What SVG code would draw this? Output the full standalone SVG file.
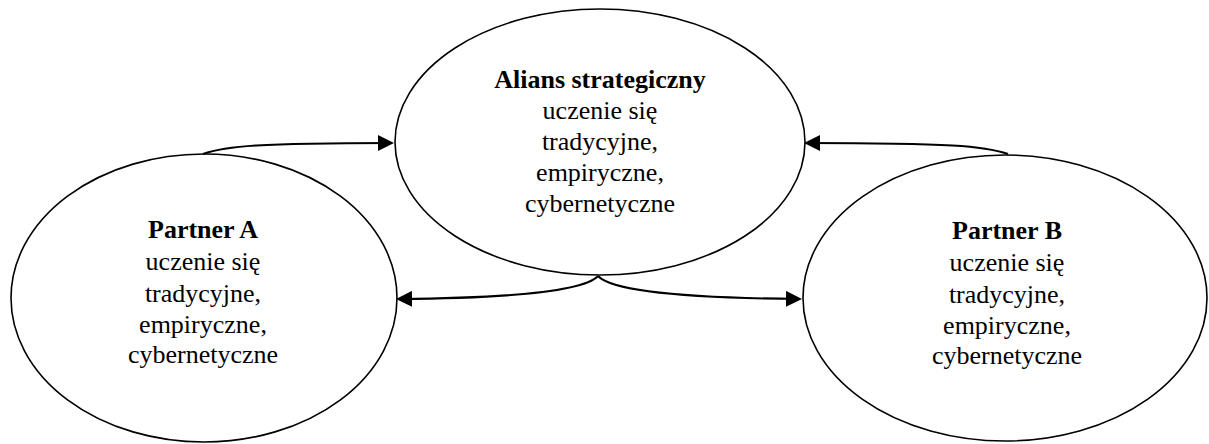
<svg xmlns="http://www.w3.org/2000/svg" width="1209" height="444" viewBox="0 0 1209 444">
  <style>
    .node { fill: #ffffff; stroke: #000000; stroke-width: 1.6; }
    .label { font-family: "Liberation Serif", "Times New Roman", serif; font-size: 26px; fill: #000000; text-anchor: middle; }
    .title { font-weight: bold; }
    .link { fill: none; stroke: #000000; stroke-width: 2.2; marker-end: url(#arrow); }
  </style>
  <defs>
    <marker id="arrow" markerUnits="userSpaceOnUse" markerWidth="16" markerHeight="16" refX="14" refY="8" orient="auto">
      <path d="M0,0 L16,8 L0,16 z" fill="#000000"/>
    </marker>
  </defs>

  <rect width="1209" height="444" fill="#ffffff"/>

  <!-- Strategic alliance (centre) -->
  <g id="alliance">
    <ellipse class="node" cx="600" cy="142" rx="205" ry="133"/>
    <text class="label" x="600" y="88"><tspan class="title">Alians strategiczny</tspan></text>
    <text class="label" x="600" y="119">uczenie się</text>
    <text class="label" x="600" y="150">tradycyjne,</text>
    <text class="label" x="600" y="181">empiryczne,</text>
    <text class="label" x="600" y="212">cybernetyczne</text>
  </g>

  <!-- Partner A (left) -->
  <g id="partner-a">
    <ellipse class="node" cx="204" cy="298" rx="193" ry="144"/>
    <text class="label" x="203" y="238"><tspan class="title">Partner A</tspan></text>
    <text class="label" x="203" y="270">uczenie się</text>
    <text class="label" x="203" y="302">tradycyjne,</text>
    <text class="label" x="203" y="333">empiryczne,</text>
    <text class="label" x="203" y="363">cybernetyczne</text>
  </g>

  <!-- Partner B (right) -->
  <g id="partner-b">
    <ellipse class="node" cx="1005" cy="298" rx="202" ry="143"/>
    <text class="label" x="1007" y="239"><tspan class="title">Partner B</tspan></text>
    <text class="label" x="1007" y="271">uczenie się</text>
    <text class="label" x="1007" y="303">tradycyjne,</text>
    <text class="label" x="1007" y="334">empiryczne,</text>
    <text class="label" x="1007" y="364">cybernetyczne</text>
  </g>

  <!-- Connectors -->
  <g id="connectors">
    <path class="link" d="M203,154 C225,146 260,143 392,143"/>
    <path class="link" d="M1008,154 C985,146 950,143 806,143"/>
    <path class="link" d="M598,276 C585,290 520,298 398,299"/>
    <path class="link" d="M598,276 C611,290 676,298 800,299"/>
  </g>
</svg>
